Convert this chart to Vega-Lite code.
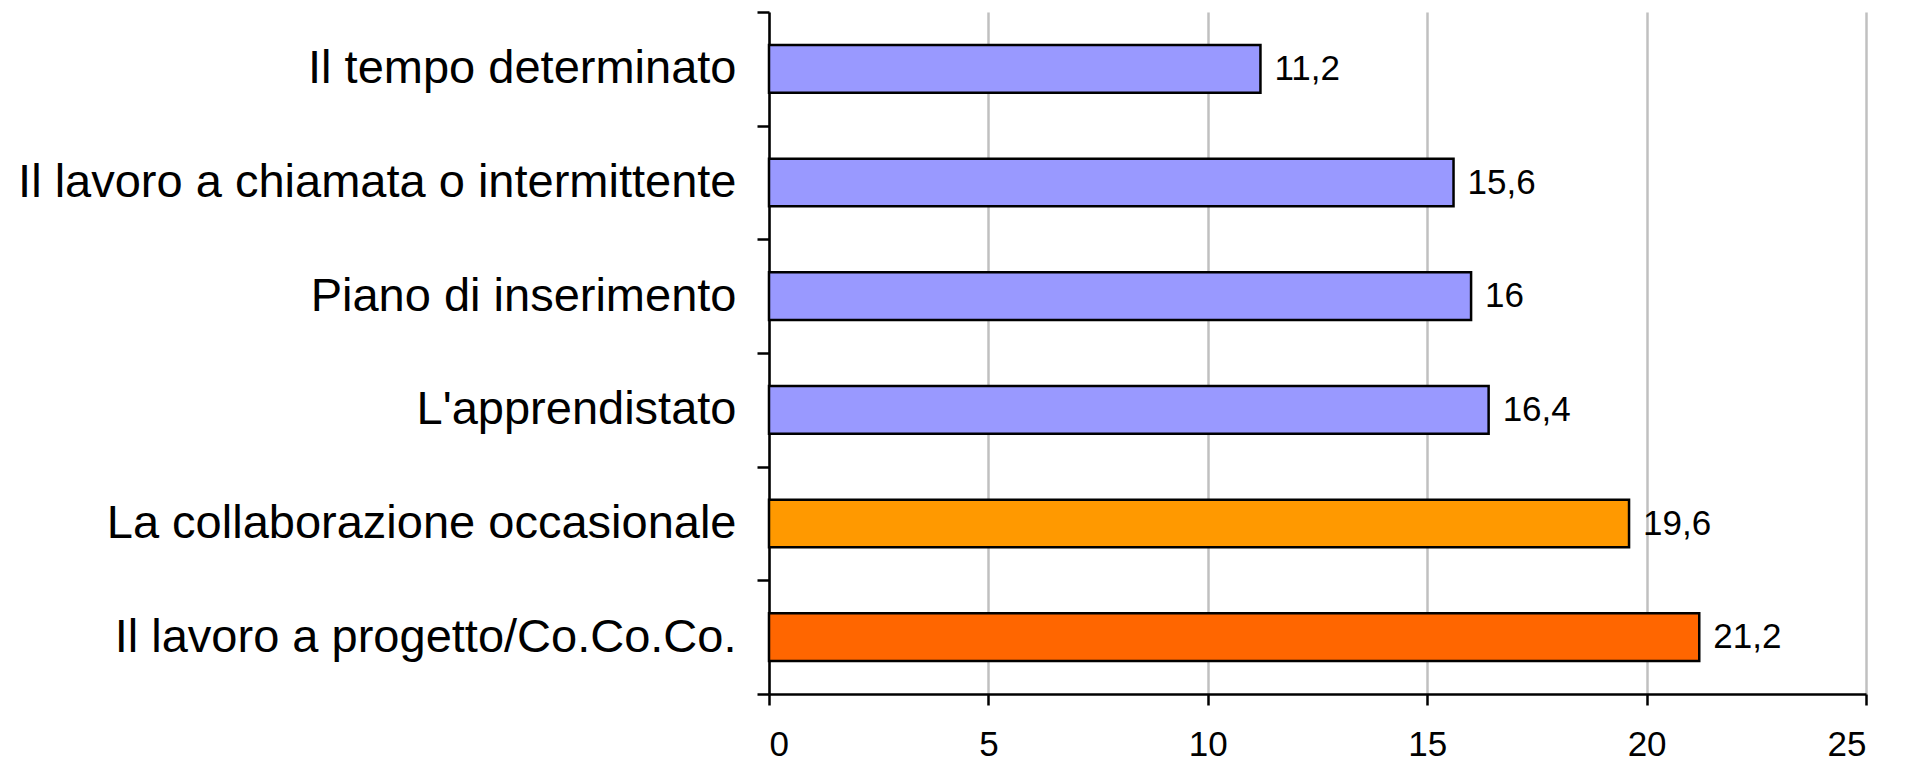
{
  "$schema": "https://vega.github.io/schema/vega-lite/v6.json",
  "autosize": {"type": "none"},
  "padding": {"left": 769, "top": 12, "right": 42, "bottom": 74},
  "width": 1097,
  "height": 682,
  "background": "white",
  "data": {
    "values": [
      {"contratto": "Il tempo determinato", "valore": 11.2},
      {"contratto": "Il lavoro a chiamata o intermittente", "valore": 15.6},
      {"contratto": "Piano di inserimento", "valore": 16},
      {"contratto": "L'apprendistato", "valore": 16.4},
      {"contratto": "La collaborazione occasionale", "valore": 19.6},
      {"contratto": "Il lavoro a progetto/Co.Co.Co.", "valore": 21.2}
    ]
  },
  "encoding": {
    "y": {
      "field": "contratto",
      "type": "nominal",
      "sort": null,
      "scale": {"paddingInner": 0, "paddingOuter": 0},
      "axis": {
        "title": null,
        "tickBand": "extent",
        "labelFont": "Liberation Sans",
        "labelFontSize": 47,
        "labelColor": "black",
        "labelPadding": 21,
        "labelLimit": 0,
        "tickSize": 12,
        "tickWidth": 2.5,
        "tickColor": "black",
        "domainColor": "black",
        "domainWidth": 2.5,
        "grid": false
      }
    },
    "x": {
      "field": "valore",
      "type": "quantitative",
      "scale": {"domain": [0, 25], "nice": false},
      "axis": {
        "title": null,
        "values": [0, 5, 10, 15, 20, 25],
        "format": "d",
        "labelFont": "Liberation Sans",
        "labelFontSize": 35,
        "labelColor": "black",
        "labelPadding": 22,
        "tickSize": 11,
        "tickWidth": 2.5,
        "tickColor": "black",
        "domainColor": "black",
        "domainWidth": 2.5,
        "grid": true,
        "gridColor": "#c0c0c0",
        "gridWidth": 2.5
      }
    }
  },
  "layer": [
    {
      "mark": {"type": "bar", "stroke": "black", "strokeWidth": 2.5, "height": {"band": 0.42}},
      "encoding": {
        "color": {
          "field": "contratto",
          "type": "nominal",
          "legend": null,
          "scale": {
            "domain": [
              "Il tempo determinato",
              "Il lavoro a chiamata o intermittente",
              "Piano di inserimento",
              "L'apprendistato",
              "La collaborazione occasionale",
              "Il lavoro a progetto/Co.Co.Co."
            ],
            "range": ["#9999ff", "#9999ff", "#9999ff", "#9999ff", "#ff9900", "#ff6600"]
          }
        }
      }
    },
    {
      "mark": {
        "type": "text",
        "align": "left",
        "baseline": "middle",
        "dx": 14,
        "font": "Liberation Sans",
        "fontSize": 35,
        "color": "black"
      },
      "encoding": {
        "text": {"field": "valore", "type": "quantitative", "format": ".1~f"}
      }
    }
  ],
  "config": {
    "view": {"stroke": null},
    "locale": {
      "number": {"decimal": ",", "thousands": ".", "grouping": [3], "currency": ["€", ""]}
    }
  }
}
